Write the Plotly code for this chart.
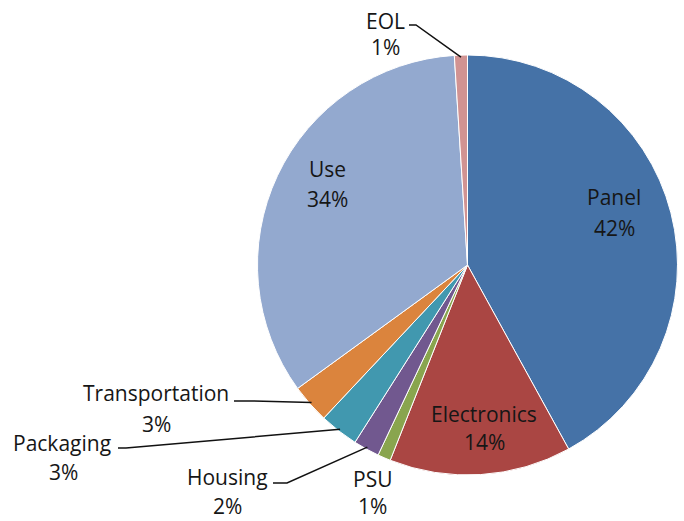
import math
import plotly.graph_objects as go

# ---- data ----
categories = ["Panel", "Electronics", "PSU", "Housing", "Packaging",
              "Transportation", "Use", "EOL"]
values = [42, 14, 1, 2, 3, 3, 34, 1]
colors = ["#4572A7", "#AA4643", "#89A54E", "#71588F", "#4198AF",
          "#DB843D", "#93A9CF", "#D19392"]

# ---- layout constants (pixels) ----
W, H = 684, 521
CX, CY, R = 467.5, 265, 210
FONT = "Open Sans"
FS = 21
TXT = "#161616"

# label placement (name centre, percent centre) in pixels
label_pos = {
    "Panel": ((614, 197), (614, 228)),
    "Electronics": ((484, 414), (485, 442)),
    "Use": ((327, 169), (327, 199)),
    "EOL": ((385, 21), (385, 47)),
    "Transportation": ((156, 393), (156, 424)),
    "Packaging": ((62, 443), (63, 472)),
    "Housing": ((227, 477), (227, 506)),
    "PSU": ((373, 479), (372, 506)),
}
# leader lines: text-side start, elbow (pixels)
leaders = {
    "EOL": ((409, 25), (416, 25)),
    "Transportation": ((234, 401), (254, 401)),
    "Packaging": ((118, 448), (126, 448)),
    "Housing": ((273, 483), (287, 483)),
}


def px(x, y):
    return x / W, 1 - y / H


fig = go.Figure(go.Pie(
    labels=categories, values=values, sort=False,
    direction="clockwise", rotation=0,
    marker=dict(colors=colors, line=dict(color="white", width=1)),
    textinfo="none", hoverinfo="label+percent", showlegend=False,
    domain=dict(x=[(CX - R) / W, (CX + R) / W],
                y=[1 - (CY + R) / H, 1 - (CY - R) / H]),
))

total = sum(values)
annotations = []
shapes = []
cum = 0
for cat, v in zip(categories, values):
    mid = (cum + v / 2) / total * 2 * math.pi
    cum += v
    (nx, ny), (qx, qy) = label_pos[cat]
    for (tx, ty), t in (((nx, ny), cat), ((qx, qy), f"{round(100 * v / total)}%")):
        x, y = px(tx, ty)
        annotations.append(dict(x=x, y=y, xref="paper", yref="paper",
                                text=t, showarrow=False,
                                xanchor="center", yanchor="middle",
                                font=dict(family=FONT, size=FS, color=TXT)))
    if cat in leaders:
        (sx, sy), (ex, ey) = leaders[cat]
        rr = R * 0.99
        endx = CX + rr * math.sin(mid)
        endy = CY - rr * math.cos(mid)
        p = [px(sx, sy), px(ex, ey), px(endx, endy)]
        path = "M {} {} L {} {} L {} {}".format(p[0][0], p[0][1], p[1][0], p[1][1], p[2][0], p[2][1])
        shapes.append(dict(type="path", xref="paper", yref="paper", path=path,
                           line=dict(color="#111111", width=1.5)))

fig.update_layout(
    width=W, height=H,
    margin=dict(l=0, r=0, t=0, b=0),
    paper_bgcolor="white", plot_bgcolor="white",
    annotations=annotations, shapes=shapes,
)

fig.write_html("out.html", config={"displayModeBar": False},
               post_script="document.body.style.margin='0';document.body.style.padding='0';")
